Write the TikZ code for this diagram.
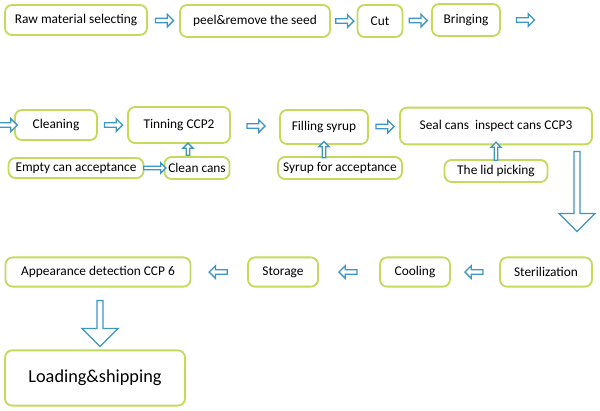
\documentclass[tikz,border=0pt]{standalone}
\usepackage{fontspec}
\setmainfont{Carlito}
\usetikzlibrary{shapes.arrows,calc}
\definecolor{lg}{RGB}{196,218,92}
\definecolor{ab}{RGB}{62,150,196}
\tikzset{
    stage/.style =  {rectangle,
                    rounded corners=5pt,
                    fill=white,
                    draw=lg,
                    line width=1.3pt,
                    text=black,
                    font=\fontsize{9.5}{11}\selectfont,
                    inner sep=0pt},
    go/.style =     {single arrow,
                    draw=ab,
                    fill=white,
                    line width=0.9pt,
                    inner sep=0pt,
                    minimum height=0.45cm,
                    minimum width=0.32cm,
                    single arrow head extend=0.03cm},
    big/.style =    {go,
                    minimum width=0.9cm,
                    single arrow head extend=0.08cm},
    pu/.style =     {shape border rotate=90},
    pd/.style =     {shape border rotate=270},
    pl/.style =     {shape border rotate=180}}
\begin{document}
\begin{tikzpicture}[x=0.025cm,y=-0.025cm]
    \useasboundingbox (0,0) rectangle (600,410);
    % first row
    \node[stage, minimum width=142*0.025cm, minimum height=0.75cm] (raw)  at (76,20)  {Raw material selecting};
    \node[stage, minimum width=150*0.025cm, minimum height=0.8cm]  (peel) at (255,21) {peel\&remove the seed};
    \node[stage, minimum width=45*0.025cm,  minimum height=0.8cm]  (cut)  at (380,21) {Cut};
    \node[stage, minimum width=68*0.025cm,  minimum height=0.8cm]  (brg)  at (466,20) {Bringing};
    \coordinate (out) at (548,20);
    \node[go] (a1) at ($(raw.east)!0.5!(peel.west)$) {};
    \node[go] (a2) at ($(peel.east)!0.5!(cut.west)$) {};
    \node[go] (a3) at ($(cut.east)!0.5!(brg.west)$) {};
    \node[go] (a4) at ($(brg.east)!0.5!(out)$) {};
    % second row
    \node[stage, minimum width=82*0.025cm,  minimum height=0.75cm] (cln)  at (56,125)  {Cleaning};
    \node[stage, minimum width=102*0.025cm, minimum height=0.9cm]  (tin)  at (179,125) {Tinning CCP2};
    \node[stage, minimum width=88*0.025cm,  minimum height=0.85cm] (fil)  at (324,127) {Filling syrup};
    \node[stage, minimum width=192*0.025cm, minimum height=0.92cm] (seal) at (496,126) {Seal cans\ \ inspect cans CCP3};
    \coordinate (in) at (0,125);
    \node[go] (b0) at ($(in)!0.5!(cln.west)$) {};
    \node[go] (b1) at ($(cln.east)!0.5!(tin.west)$) {};
    \node[go] (b2) at ($(tin.east)!0.5!(fil.west)$) {};
    \node[go] (b3) at ($(fil.east)!0.5!(seal.west)$) {};
    % supplies
    \node[stage, minimum width=135*0.025cm, minimum height=0.5cm]  (emp)  at (76,168)  {Empty can acceptance};
    \node[stage, minimum width=65*0.025cm,  minimum height=0.55cm] (ccan) at (197,168) {Clean cans};
    \node[stage, minimum width=124*0.025cm, minimum height=0.55cm] (syr)  at (340,168) {Syrup for acceptance};
    \node[stage, minimum width=103*0.025cm, minimum height=0.55cm] (lid)  at (496,171) {The lid picking};
    \node[go, minimum height=0.55cm, minimum width=0.25cm] (c1) at ($(emp.east)!0.5!(ccan.west)$) {};
    \node[go, pu, minimum height=0.3cm, minimum width=0.25cm] (c2) at ($(ccan.north)!0.5!(tin.south)$) {};
    \node[go, pu, minimum height=0.4cm, minimum width=0.25cm] (c3) at ($(syr.north-|fil)!0.5!(fil.south)$) {};
    \node[go, pu, minimum height=0.45cm, minimum width=0.25cm] (c4) at ($(lid.north)!0.5!(seal.south)$) {};
    % third row
    \node[stage, minimum width=185*0.025cm, minimum height=0.73cm] (app)  at (98,272)  {Appearance detection CCP 6};
    \node[stage, minimum width=70*0.025cm,  minimum height=0.73cm] (sto)  at (283,272) {Storage};
    \node[stage, minimum width=70*0.025cm,  minimum height=0.73cm] (coo)  at (415,272) {Cooling};
    \node[stage, minimum width=92*0.025cm,  minimum height=0.73cm] (ster) at (546,272) {Sterilization};
    \node[big, pd, minimum height=2cm] (d1) at (577,190) {};
    \node[go, pl] (e1) at ($(ster.west)!0.5!(coo.east)$) {};
    \node[go, pl] (e2) at ($(coo.west)!0.5!(sto.east)$) {};
    \node[go, pl] (e3) at ($(sto.west)!0.5!(app.east)$) {};
    % last step
    \node[stage, minimum width=180*0.025cm, minimum height=1.38cm,
          font=\fontsize{13}{15}\selectfont] (load) at (95,378) {Loading\&shipping};
    \node[big, pd, minimum height=1.15cm] (d2) at (100,322) {};
\end{tikzpicture}
\end{document}
